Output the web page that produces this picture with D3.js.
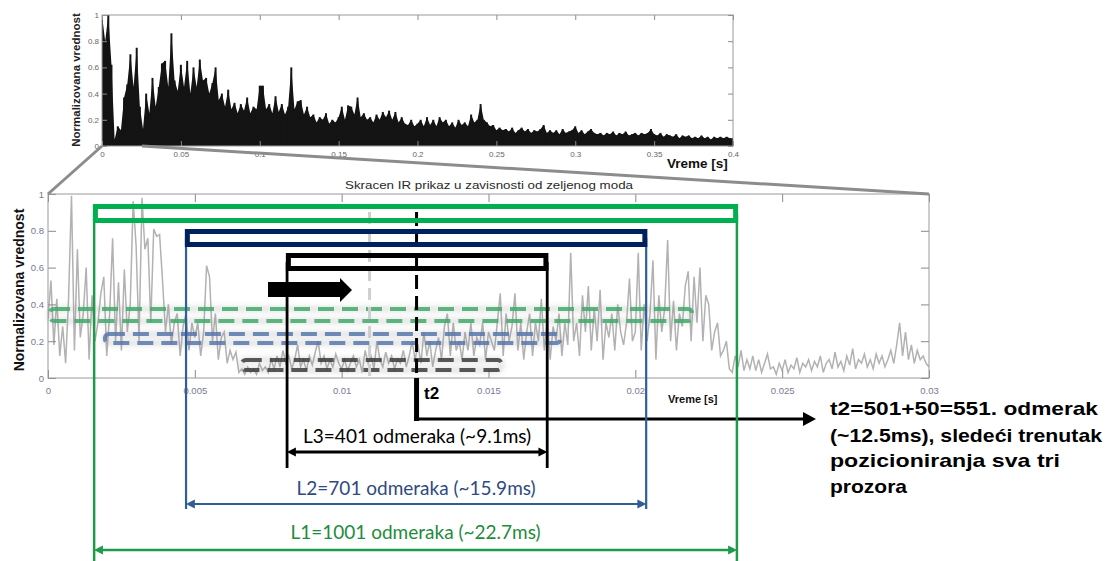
<!DOCTYPE html>
<html><head><meta charset="utf-8">
<script src="https://cdn.jsdelivr.net/npm/d3@7"></script>
<style>body{margin:0;background:#fff}svg{display:block}</style>
</head><body>
<svg id="c" width="1105" height="561"></svg>
<script>
// ---------------- DATA ----------------
const overviewDt = 0.002; // s between overview samples
const overviewValues = [
1.0,0.8,1.0,0.62,0.05,0.15,0.12,0.37,0.47,0.7,0.45,0.75,0.3,0.13,0.4,0.25,0.52,0.3,0.45,0.63,
0.65,0.45,0.86,0.5,0.42,0.62,0.45,0.65,0.4,0.6,0.45,0.66,0.5,0.52,0.4,0.48,0.6,0.35,0.4,0.3,
0.43,0.28,0.33,0.25,0.32,0.27,0.37,0.25,0.3,0.28,0.46,0.46,0.28,0.32,0.25,0.38,0.26,0.32,0.24,0.3,
0.6,0.28,0.34,0.35,0.24,0.3,0.22,0.24,0.18,0.22,0.2,0.25,0.17,0.2,0.18,0.22,0.3,0.2,0.31,0.3,
0.24,0.37,0.22,0.25,0.2,0.22,0.18,0.24,0.2,0.26,0.22,0.27,0.2,0.26,0.18,0.22,0.17,0.16,0.2,0.15,
0.17,0.2,0.15,0.22,0.16,0.2,0.15,0.22,0.18,0.2,0.15,0.18,0.14,0.2,0.16,0.18,0.15,0.24,0.18,0.2,
0.32,0.2,0.18,0.15,0.16,0.12,0.14,0.12,0.13,0.11,0.14,0.1,0.12,0.14,0.11,0.13,0.1,0.12,0.11,0.13,
0.16,0.1,0.12,0.1,0.12,0.09,0.13,0.1,0.11,0.12,0.15,0.1,0.12,0.09,0.11,0.13,0.1,0.09,0.1,0.08,
0.1,0.09,0.11,0.08,0.1,0.09,0.11,0.08,0.09,0.1,0.08,0.1,0.09,0.1,0.13,0.09,0.08,0.1,0.07,0.09,
0.08,0.07,0.09,0.06,0.08,0.07,0.08,0.06,0.07,0.06,0.08,0.06,0.07,0.05,0.07,0.06,0.07,0.06,0.07,0.06,
0.06];
const overviewXTicks = [0,0.05,0.1,0.15,0.2,0.25,0.3,0.35,0.4];
const overviewXTickLabels = ["0","0.05","0.1","0.15","0.2","0.25","0.3","0.35","0.4"];
const yTicks = [0,0.2,0.4,0.6,0.8,1];
const yTickLabels = ["0","0.2","0.4","0.6","0.8","1"];

const detailDt = 0.0001; // s between detail samples
const detailValues = [
0.32,0.53,0.18,0.43,0.12,0.28,0.08,0.43,0.99,0.15,0.70,0.22,0.35,0.60,0.1,0.45,0.2,0.3,0.46,0.55,
0.12,0.35,0.76,0.2,0.52,0.15,0.59,0.25,0.4,0.96,0.72,0.2,0.98,0.7,0.76,0.3,0.81,0.77,0.78,0.53,
0.25,0.4,0.18,0.3,0.35,0.12,0.28,0.35,0.15,0.3,0.22,0.3,0.12,0.25,0.61,0.55,0.2,0.35,0.1,0.22,
0.25,0.08,0.15,0.1,0.14,0.03,0.05,0.02,0.06,0.03,0.05,0.02,0.08,0.04,0.06,0.03,0.1,0.05,0.12,0.06,
0.15,0.08,0.12,0.05,0.1,0.18,0.06,0.1,0.04,0.12,0.07,0.14,0.2,0.08,0.12,0.05,0.1,0.06,0.13,0.08,
0.05,0.1,0.04,0.08,0.12,0.06,0.1,0.03,0.15,0.08,0.12,0.05,0.2,0.1,0.06,0.14,0.08,0.12,0.05,0.1,
0.08,0.15,0.06,0.12,0.2,0.1,0.18,0.08,0.25,0.12,0.2,0.06,0.15,0.22,0.1,0.28,0.35,0.12,0.3,0.15,
0.2,0.1,0.25,0.15,0.3,0.12,0.22,0.18,0.3,0.1,0.25,0.2,0.15,0.3,0.46,0.12,0.35,0.2,0.28,0.46,
0.15,0.3,0.1,0.25,0.35,0.12,0.3,0.2,0.43,0.15,0.32,0.1,0.28,0.2,0.35,0.12,0.3,0.18,0.68,0.2,
0.3,0.12,0.45,0.25,0.5,0.15,0.38,0.2,0.48,0.1,0.3,0.22,0.35,0.15,0.4,0.25,0.18,0.3,0.54,0.2,
0.25,0.68,0.15,0.4,0.2,0.35,0.64,0.1,0.45,0.25,0.38,0.75,0.2,0.42,0.15,0.35,0.28,0.5,0.58,0.2,
0.55,0.3,0.6,0.2,0.45,0.4,0.15,0.25,0.3,0.12,0.15,0.2,0.05,0.03,0.12,0.06,0.15,0.04,0.1,0.05,
0.12,0.04,0.1,0.03,0.08,0.13,0.05,0.06,0.02,0.08,0.04,0.1,0.03,0.07,0.05,0.11,0.03,0.08,0.06,0.1,
0.04,0.09,0.06,0.12,0.03,0.08,0.1,0.05,0.14,0.06,0.09,0.04,0.12,0.07,0.16,0.05,0.1,0.08,0.13,0.06,
0.1,0.05,0.13,0.08,0.12,0.06,0.1,0.15,0.08,0.18,0.3,0.12,0.25,0.1,0.18,0.08,0.15,0.1,0.12,0.08,
0.06];
const detailXTicks = [0,0.005,0.01,0.015,0.02,0.025,0.03];
const detailXTickLabels = ["0","0.005","0.01","0.015","0.02","0.025","0.03"];

const windowNames = ["L1","L2","L3"];
const windowSamples = [1001,701,401];
const windowMs = ["22.7","15.9","9.1"];
const windowStartMs = [1.53,4.66,8.1];
const windowEndMs = [23.5,20.41,17.04];
const prevWindowStartMs = [0,1.87,6.53];
const prevWindowEndMs = [22.0,17.52,15.51];
const t1Ms = 10.95;
const t2Ms = 12.55;
const overviewTitle = "Skracen IR prikaz u zavisnosti od zeljenog moda";
const yAxisTitle = "Normalizovana vrednost";
const xAxisTitle = "Vreme [s]";
const annotationLines = ["t2=501+50=551. odmerak","(~12.5ms), sledeći trenutak","pozicioniranja sva tri","prozora"];

// ---------------- LAYOUT ----------------
const svg = d3.select("#c");
const FONT = "'Liberation Sans', Arial, sans-serif";
const xO = d3.scaleLinear().domain([0,0.4]).range([102,733]);
const yO = d3.scaleLinear().domain([0,1]).range([146,15]);
const xD = d3.scaleLinear().domain([0,0.03]).range([48,929]);
const yD = d3.scaleLinear().domain([0,1]).range([378,194]);

const defs = svg.append("defs");
defs.append("clipPath").attr("id","clipO").append("rect")
  .attr("x",102).attr("y",15).attr("width",631).attr("height",131);
defs.append("clipPath").attr("id","clipD").append("rect")
  .attr("x",48).attr("y",194).attr("width",881).attr("height",184);
const blur = defs.append("filter").attr("id","soft").attr("x","-10%").attr("y","-60%").attr("width","120%").attr("height","220%");
blur.append("feGaussianBlur").attr("stdDeviation",0.7);
const blur2 = defs.append("filter").attr("id","shadow").attr("x","-10%").attr("y","-80%").attr("width","120%").attr("height","260%");
blur2.append("feGaussianBlur").attr("stdDeviation",2.5);

function frame(x, y, xt, xtl, tickLen, labelSize, labelColor, xPad, yPad) {
  const g = svg.append("g");
  const [x0,x1] = x.range(), [y0,y1] = y.range();
  g.append("g").attr("transform",`translate(0,${y0})`)
    .call(d3.axisBottom(x).tickValues(xt).tickFormat((d,i)=>xtl[i]).tickSizeInner(-tickLen).tickSizeOuter(0).tickPadding(xPad));
  g.append("g").attr("transform",`translate(${x0},0)`)
    .call(d3.axisLeft(y).tickValues(yTicks).tickFormat((d,i)=>yTickLabels[i]).tickSizeInner(-tickLen).tickSizeOuter(0).tickPadding(yPad));
  g.append("g").attr("transform",`translate(0,${y1})`)
    .call(d3.axisTop(x).tickValues(xt).tickFormat("").tickSizeInner(-tickLen).tickSizeOuter(0));
  g.append("g").attr("transform",`translate(${x1},0)`)
    .call(d3.axisRight(y).tickValues(yTicks).tickFormat("").tickSizeInner(-tickLen).tickSizeOuter(0));
  g.selectAll(".domain").remove();
  g.selectAll(".tick line").attr("stroke","#8a8a8a");
  g.selectAll(".tick text").attr("fill",labelColor).style("font-family",FONT).style("font-size",labelSize+"px");
  g.append("rect").attr("x",x0).attr("y",y1).attr("width",x1-x0).attr("height",y0-y1)
    .attr("fill","none").attr("stroke","#9a9a9a").attr("stroke-width",1);
  return g;
}

// ---- overview chart: filled trace + spike stems ----
const oPlot = svg.append("g").attr("clip-path","url(#clipO)");
oPlot.append("path").datum(overviewValues)
  .attr("d", d3.area().x((d,i)=>xO(i*overviewDt)).y0(yO(0)).y1(d=>yO(d)))
  .attr("fill","#141414");
oPlot.selectAll("line.spike").data(overviewValues).join("line").attr("class","spike")
  .attr("x1",(d,i)=>xO(i*overviewDt)).attr("x2",(d,i)=>xO(i*overviewDt))
  .attr("y1",yO(0)).attr("y2",d=>yO(d))
  .attr("stroke","#141414").attr("stroke-width",2);
frame(xO, yO, overviewXTicks, overviewXTickLabels, 5, 8, "#666", 5, 3);
svg.append("text").attr("transform","translate(80,80) rotate(-90)")
  .attr("text-anchor","middle").style("font-family",FONT).style("font-weight","bold")
  .style("font-size","11.5px").attr("fill","#222").text(yAxisTitle);
svg.append("text").attr("x",667).attr("y",168).style("font-family",FONT).style("font-weight","bold")
  .style("font-size","13.5px").attr("fill","#111").text(xAxisTitle);

// ---- detail chart ----
const dPlot = svg.append("g").attr("clip-path","url(#clipD)");
dPlot.append("path").datum(detailValues)
  .attr("d", d3.line().x((d,i)=>xD(i*detailDt)).y(d=>yD(d)))
  .attr("fill","none").attr("stroke","#b2b2b2").attr("stroke-width",1.5);
frame(xD, yD, detailXTicks, detailXTickLabels, 8, 9.5, "#7a7896", 9, 4);
svg.append("text").attr("x",489).attr("y",189).attr("text-anchor","middle")
  .attr("textLength",288).attr("lengthAdjust","spacingAndGlyphs")
  .style("font-family",FONT).style("font-size","11px").attr("fill","#2a2a2a").text(overviewTitle);
svg.append("text").attr("transform","translate(24,290) rotate(-90)")
  .attr("text-anchor","middle").style("font-family",FONT).style("font-weight","bold")
  .style("font-size","14px").attr("fill","#111").text(yAxisTitle);
svg.append("text").attr("x",668).attr("y",403).style("font-family",FONT).style("font-weight","bold")
  .style("font-size","11px").attr("fill","#111").text(xAxisTitle);

// zoom connector lines
svg.append("line").attr("x1",xO(0)).attr("y1",yO(0)).attr("x2",xD(0)).attr("y2",yD(1))
  .attr("stroke","#8c8c8c").attr("stroke-width",3);
svg.append("line").attr("x1",142).attr("y1",yO(0)).attr("x2",xD(0.03)).attr("y2",yD(1))
  .attr("stroke","#8c8c8c").attr("stroke-width",3);

const ms = v => xD(v/1000);

// ---- previous (dashed) windows ----
const prevTop = [309,334,360], prevH = [12,9,10];
const prevColor = ["#3fab6b","#5878ad","#3c3c3c"];
windowNames.forEach((n,i)=>{
  const xs = ms(prevWindowStartMs[i]), xe = ms(prevWindowEndMs[i]);
  svg.append("rect").attr("x",xs+2).attr("y",prevTop[i]).attr("width",xe-xs-4).attr("height",prevH[i])
    .attr("rx",4).attr("fill","none").attr("stroke","#888").attr("stroke-opacity",0.22)
    .attr("stroke-width",6).attr("filter","url(#shadow)");
  svg.append("rect").attr("x",xs+2).attr("y",prevTop[i]).attr("width",xe-xs-4).attr("height",prevH[i])
    .attr("rx",4).attr("fill","none").attr("stroke",prevColor[i]).attr("stroke-width",4)
    .attr("stroke-dasharray","16 8").attr("opacity",0.85).attr("filter","url(#soft)");
});

// t1 and t2 markers
svg.append("line").attr("x1",ms(t1Ms)).attr("x2",ms(t1Ms)).attr("y1",212).attr("y2",yD(0))
  .attr("stroke","#cfcfcf").attr("stroke-width",3).attr("stroke-dasharray","12 7");
svg.append("line").attr("x1",ms(t2Ms)).attr("x2",ms(t2Ms)).attr("y1",212).attr("y2",yD(0))
  .attr("stroke","#000").attr("stroke-width",3).attr("stroke-dasharray","14 7");
svg.append("line").attr("x1",ms(t2Ms)).attr("x2",ms(t2Ms)).attr("y1",yD(0)).attr("y2",421)
  .attr("stroke","#000").attr("stroke-width",5);
svg.append("line").attr("x1",ms(t2Ms)-2.5).attr("x2",805).attr("y1",419).attr("y2",419)
  .attr("stroke","#000").attr("stroke-width",3);
svg.append("path").attr("d","M803,412 L816,419 L803,426 Z").attr("fill","#000");
svg.append("text").attr("x",424).attr("y",399).style("font-family",FONT).style("font-weight","bold")
  .style("font-size","17px").attr("fill","#000").text("t2");

// ---- current windows ----
const barTop = [204,229,253], barH = [19,18,18];
const barColor = ["#00b050","#002060","#000000"];
const lineColor = ["#1f9a4a","#2f5f97","#000000"];
const textColor = ["#1d8c3d","#2e4a7f","#000000"];
const lineW = [2.5,2.2,2.8];
const dimArrowY = [550,504,452], dimBottom = [562,509,468], labelY = [539,495,443];

windowNames.forEach((n,i)=>{
  const xs = ms(windowStartMs[i]), xe = ms(windowEndMs[i]);
  const g = svg.append("g");
  [xs+1.2, xe-1.2].forEach(xx=>{
    g.append("line").attr("x1",xx).attr("x2",xx).attr("y1",barTop[i]+barH[i]/2).attr("y2",dimBottom[i])
      .attr("stroke",lineColor[i]).attr("stroke-width",lineW[i]);
  });
  g.append("rect").attr("x",xs+2.5).attr("y",barTop[i]+2.5).attr("width",xe-xs-5).attr("height",barH[i]-5)
    .attr("fill","none").attr("stroke",barColor[i]).attr("stroke-width",5);
  const y = dimArrowY[i], ah = 9, aw = 4.5;
  g.append("line").attr("x1",xs+ah).attr("x2",xe-ah).attr("y1",y).attr("y2",y)
    .attr("stroke",lineColor[i]).attr("stroke-width",lineW[i]);
  g.append("path").attr("d",`M${xs+1},${y} L${xs+1+ah},${y-aw} L${xs+1+ah},${y+aw} Z`).attr("fill",lineColor[i]);
  g.append("path").attr("d",`M${xe-1},${y} L${xe-1-ah},${y-aw} L${xe-1-ah},${y+aw} Z`).attr("fill",lineColor[i]);
  g.append("text").attr("x",(xs+xe)/2).attr("y",labelY[i]).attr("text-anchor","middle")
    .style("font-family","Lato, 'Open Sans', sans-serif").style("font-size","19px")
    .attr("fill",textColor[i]).text(`${n}=${windowSamples[i]} odmeraka (~${windowMs[i]}ms)`);
});

// moving direction arrow
svg.append("path").attr("d","M268,282 L340,282 L340,278 L352,290 L340,302 L340,297 L268,297 Z").attr("fill","#000");

// annotation
const annBase = [415,442,467,493], annLen = [268,272,230,77];
annotationLines.forEach((t,i)=>{
  svg.append("text").attr("x",830).attr("y",annBase[i])
    .attr("textLength",annLen[i]).attr("lengthAdjust","spacingAndGlyphs")
    .style("font-family",FONT).style("font-weight","bold").style("font-size","19px")
    .attr("fill","#000").text(t);
});
</script>
</body></html>
